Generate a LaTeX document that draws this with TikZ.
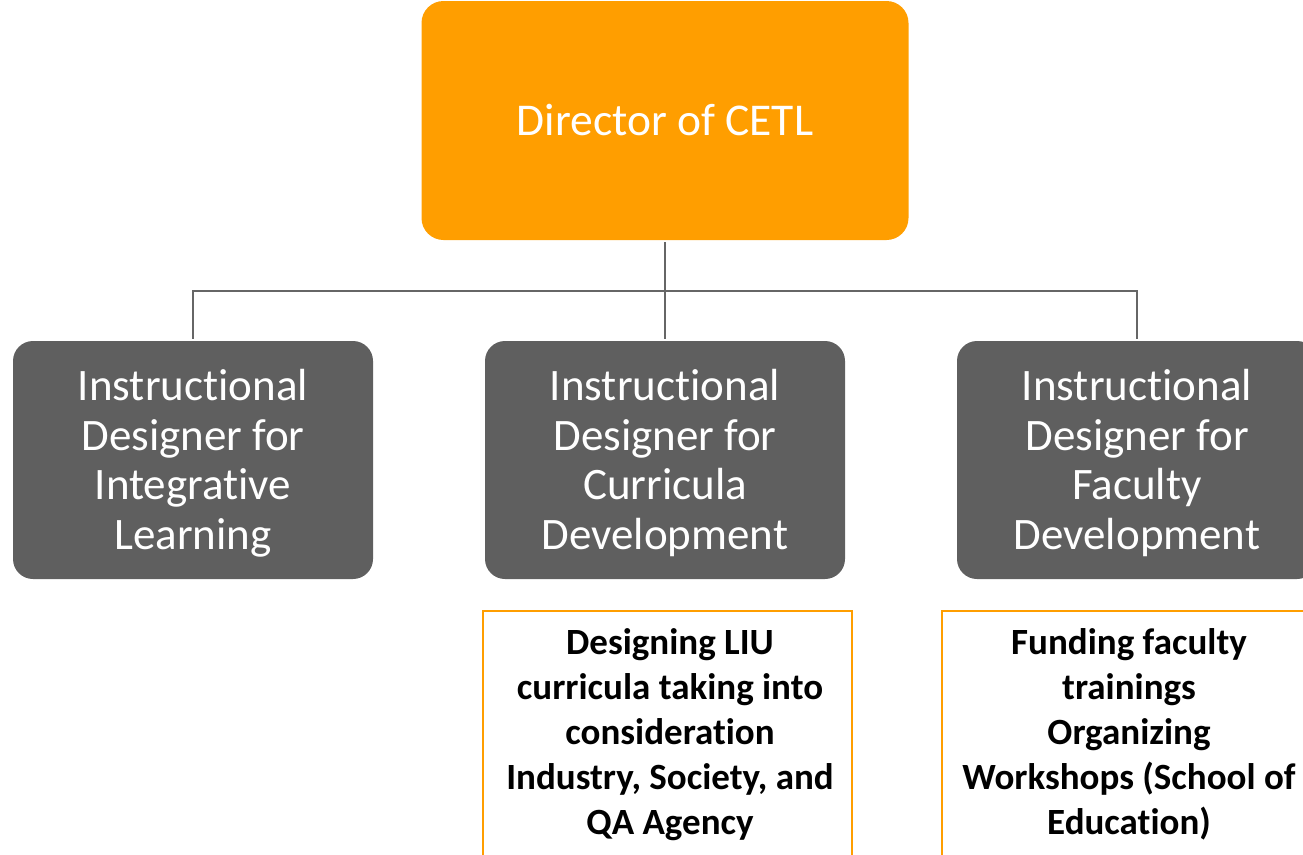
\documentclass[tikz,border=0pt]{standalone}
\usepackage{fontspec}
\setmainfont{Carlito}[Ligatures=NoCommon]
\definecolor{dirorange}{HTML}{FF9E00}
\definecolor{boxgray}{HTML}{5F5F5F}
\definecolor{linegray}{HTML}{666666}
\begin{document}
\begin{tikzpicture}[x=1pt,y=-1pt,
  dirbox/.style={fill=dirorange, rounded corners=22pt, minimum width=487pt, minimum height=239pt, text=white, font=\fontsize{45.5}{49}\selectfont, inner sep=0pt},
  rolebox/.style={fill=boxgray, rounded corners=20pt, minimum width=360pt, minimum height=238pt, text=white, font=\fontsize{45}{49.5}\selectfont, align=center, inner sep=0pt},
  roletext/.style={text=white, font=\fontsize{45}{49.5}\selectfont, align=center, inner sep=0pt},
  taskbox/.style={draw=dirorange, line width=2pt, minimum width=369pt, minimum height=270pt, anchor=north, inner sep=0pt},
  tasktext/.style={font=\bfseries\fontsize{37}{45}\selectfont, align=center, anchor=north},
  conn/.style={draw=linegray, line width=2.6pt}]
\useasboundingbox (0,0) rectangle (1303,854);
\clip (0,0) rectangle (1303,854);
\node[dirbox] (dir) at (665,120.5) {\raisebox{-1.5pt}{Director of CETL}};
\node[rolebox] (r1) at (193,460) {};
\node[rolebox] (r2) at (665,460) {};
\node[rolebox] (r3) at (1137,460) {};
\node[roletext] (l1) at (193,463) {Instructional\\Designer for\\Integrative\\Learning};
\node[roletext] (l2) at (665,463) {Instructional\\Designer for\\Curricula\\Development};
\node[roletext] (l3) at (1137,463) {Instructional\\Designer for\\Faculty\\Development};
\node[taskbox] (t2) at (667,610) {};
\node[taskbox] (t3) at (1126,610) {};
\node[tasktext] (tt2) at (670,625) {Designing LIU\\curricula taking into\\consideration\\Industry, Society, and\\QA Agency};
\node[tasktext] (tt3) at (1129,625) {Funding faculty\\trainings\\Organizing\\Workshops (School of\\Education)};
\coordinate (bus) at (665,291);
\draw[conn] ([yshift=-2pt]dir.south) -- (bus);
\draw[conn] ([yshift=2pt]r1.north) |- (bus) -| ([yshift=2pt]r3.north);
\draw[conn] (bus) -- ([yshift=2pt]r2.north);
\end{tikzpicture}
\end{document}
